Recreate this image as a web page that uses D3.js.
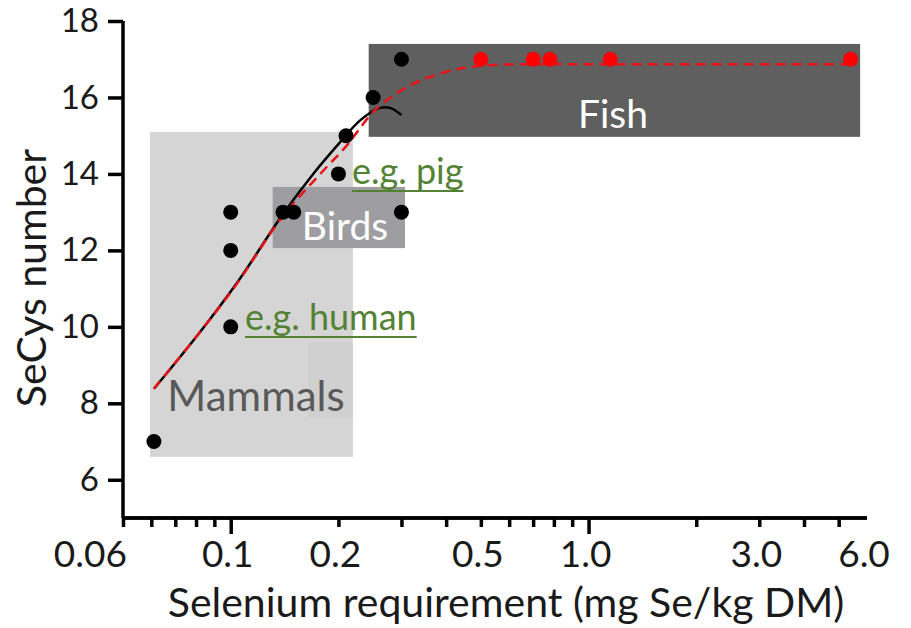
<!DOCTYPE html>
<html>
<head>
<meta charset="utf-8">
<script src="https://cdn.jsdelivr.net/npm/d3@7"></script>
<style>
  html, body { margin: 0; padding: 0; background: #fff; }
  svg { display: block; font-family: Lato, "Open Sans", sans-serif; }
</style>
</head>
<body>
<svg id="chart" width="911" height="628"></svg>
<script>
// ---------------- data ----------------
const xTickValues = [0.06, 0.1, 0.2, 0.5, 1.0, 3.0, 6.0];
const xTickLabels = ["0.06", "0.1", "0.2", "0.5", "1.0", "3.0", "6.0"];
const xMinorTicks = [0.05, 0.06, 0.07, 0.08, 0.09, 0.2, 0.3, 0.4, 0.5, 0.6, 0.7, 0.8, 0.9, 2, 3, 4, 5];
const xMajorTicks = [0.1, 1.0];
const yTickValues = [6, 8, 10, 12, 14, 16, 18];

// measured species (black) and fish (red)
const blackX = [0.061, 0.1, 0.1, 0.1, 0.14, 0.15, 0.2, 0.21, 0.25, 0.3, 0.3];
const blackY = [7, 13, 12, 10, 13, 13, 14, 15, 16, 17, 13];
const redX = [0.5, 0.7, 0.78, 1.15, 5.4];
const redY = [17, 17, 17, 17, 17];

// fitted curves
const fitBlackX = [0.061, 0.082, 0.105, 0.14, 0.17, 0.2, 0.23, 0.26, 0.28, 0.3];
const fitBlackY = [8.38, 9.86, 11.2, 12.95, 14.0, 14.78, 15.4, 15.72, 15.72, 15.54];
const fitRedX = [0.061, 0.1, 0.14, 0.18, 0.21, 0.225, 0.25, 0.29, 0.34, 0.42, 0.5, 0.7, 1.0, 2.0, 5.4];
const fitRedY = [8.38, 10.9, 12.9, 14.05, 14.72, 15.08, 15.62, 16.1, 16.45, 16.72, 16.83, 16.87, 16.87, 16.87, 16.87];

// group regions (data units)
const groupNames = ["Mammals", "Birds", "Fish"];
const groupX0 = [0.0595, 0.131, 0.243];
const groupX1 = [0.2195, 0.307, 5.74];
const groupY0 = [6.6, 12.06, 14.97];
const groupY1 = [15.1, 13.66, 17.4];

// ---------------- chart ----------------
const svg = d3.select("#chart");
const x = d3.scaleLog().domain([0.05, 6.0]).range([123, 867]);
const y = d3.scaleLinear().domain([5, 18]).range([518, 21]);
const ink = "#1a1a1a";

const groupFill = ["#d5d5d5", "#9e9ea2", "#5f5f5f"];
const gRegions = svg.append("g");
groupNames.forEach((n, i) => {
  gRegions.append("rect")
    .attr("x", x(groupX0[i])).attr("y", y(groupY1[i]))
    .attr("width", x(groupX1[i]) - x(groupX0[i]))
    .attr("height", y(groupY0[i]) - y(groupY1[i]))
    .attr("fill", groupFill[i]);
});
// faint patch behind "Mammals" label end
gRegions.append("rect")
  .attr("x", 308).attr("y", 343).attr("width", 45).attr("height", 75)
  .attr("fill", "#d1d0d1");

// region labels
svg.append("text").attr("x", 613).attr("y", 128).attr("text-anchor", "middle")
  .attr("font-size", 39).attr("fill", "#fff").text("Fish");
svg.append("text").attr("x", 345).attr("y", 240).attr("text-anchor", "middle")
  .attr("font-size", 39).attr("fill", "#fff").text("Birds");
svg.append("text").attr("x", 256).attr("y", 411).attr("text-anchor", "middle")
  .attr("font-size", 42).attr("fill", "#595959").text("Mammals");

// green annotations
const green = "#548235";
function note(txt, x0, base) {
  const t = svg.append("text").attr("x", x0).attr("y", base)
    .attr("font-size", 36).attr("fill", green).text(txt);
  const len = t.node().getComputedTextLength();
  svg.append("line").attr("x1", x0).attr("x2", x0 + len)
    .attr("y1", base + 7).attr("y2", base + 7)
    .attr("stroke", green).attr("stroke-width", 2);
}
note("e.g. pig", 352, 184);
note("e.g. human", 245, 330);

// fitted curves
const line = d3.line().x(d => x(d[0])).y(d => y(d[1])).curve(d3.curveCatmullRom.alpha(0.5));
svg.append("path").datum(fitBlackX.map((v, i) => [v, fitBlackY[i]]))
  .attr("d", line).attr("fill", "none").attr("stroke", "#000").attr("stroke-width", 2.5);
svg.append("path").datum(fitRedX.map((v, i) => [v, fitRedY[i]]))
  .attr("d", line).attr("fill", "none").attr("stroke", "#e8141b").attr("stroke-width", 2.5)
  .attr("stroke-dasharray", "10,6");

// points
svg.append("g").selectAll("circle").data(blackX.map((v, i) => [v, blackY[i]])).join("circle")
  .attr("cx", d => x(d[0])).attr("cy", d => y(d[1])).attr("r", 7.5).attr("fill", "#000");
svg.append("g").selectAll("circle").data(redX.map((v, i) => [v, redY[i]])).join("circle")
  .attr("cx", d => x(d[0])).attr("cy", d => y(d[1])).attr("r", 7.5).attr("fill", "#ff0000");

// axes
const axisStroke = 3.5;
const gx = svg.append("g").attr("transform", `translate(0,${y(5)})`);
gx.call(d3.axisBottom(x).tickValues(xMinorTicks).tickSize(9).tickFormat(""));
gx.append("g").call(d3.axisBottom(x).tickValues(xMajorTicks).tickSize(16).tickFormat(""));
gx.selectAll("path.domain").attr("stroke-width", axisStroke).attr("d", `M${x(0.05)},0H${x(6.0)}`);
gx.selectAll(".tick line").attr("stroke-width", axisStroke);

xTickValues.forEach((v, i) => {
  const isFirst = i === 0;
  svg.append("text")
    .attr("x", isFirst ? x(v) - 61 : x(v) - 3)
    .attr("y", 567)
    .attr("text-anchor", "middle")
    .attr("font-size", 37).attr("fill", ink).text(xTickLabels[i]);
});

const gy = svg.append("g").attr("transform", `translate(${x(0.05)},0)`);
gy.call(d3.axisLeft(y).tickValues(yTickValues).tickSize(15).tickFormat(d3.format("d")).tickPadding(9));
gy.select("path.domain").attr("stroke-width", axisStroke).attr("d", `M0,${y(18)}V${y(5)}`);
gy.selectAll(".tick line").attr("stroke-width", axisStroke);
gy.selectAll(".tick text").attr("font-size", 33).attr("font-family", "Lato, sans-serif").attr("fill", ink);

// axis titles
svg.append("text").attr("x", 506).attr("y", 617).attr("text-anchor", "middle")
  .attr("font-size", 41).attr("fill", ink).text("Selenium requirement (mg Se/kg DM)");
svg.append("text").attr("transform", "translate(46,278) rotate(-90)")
  .attr("text-anchor", "middle").attr("font-size", 41).attr("fill", ink).text("SeCys number");
</script>
</body>
</html>
